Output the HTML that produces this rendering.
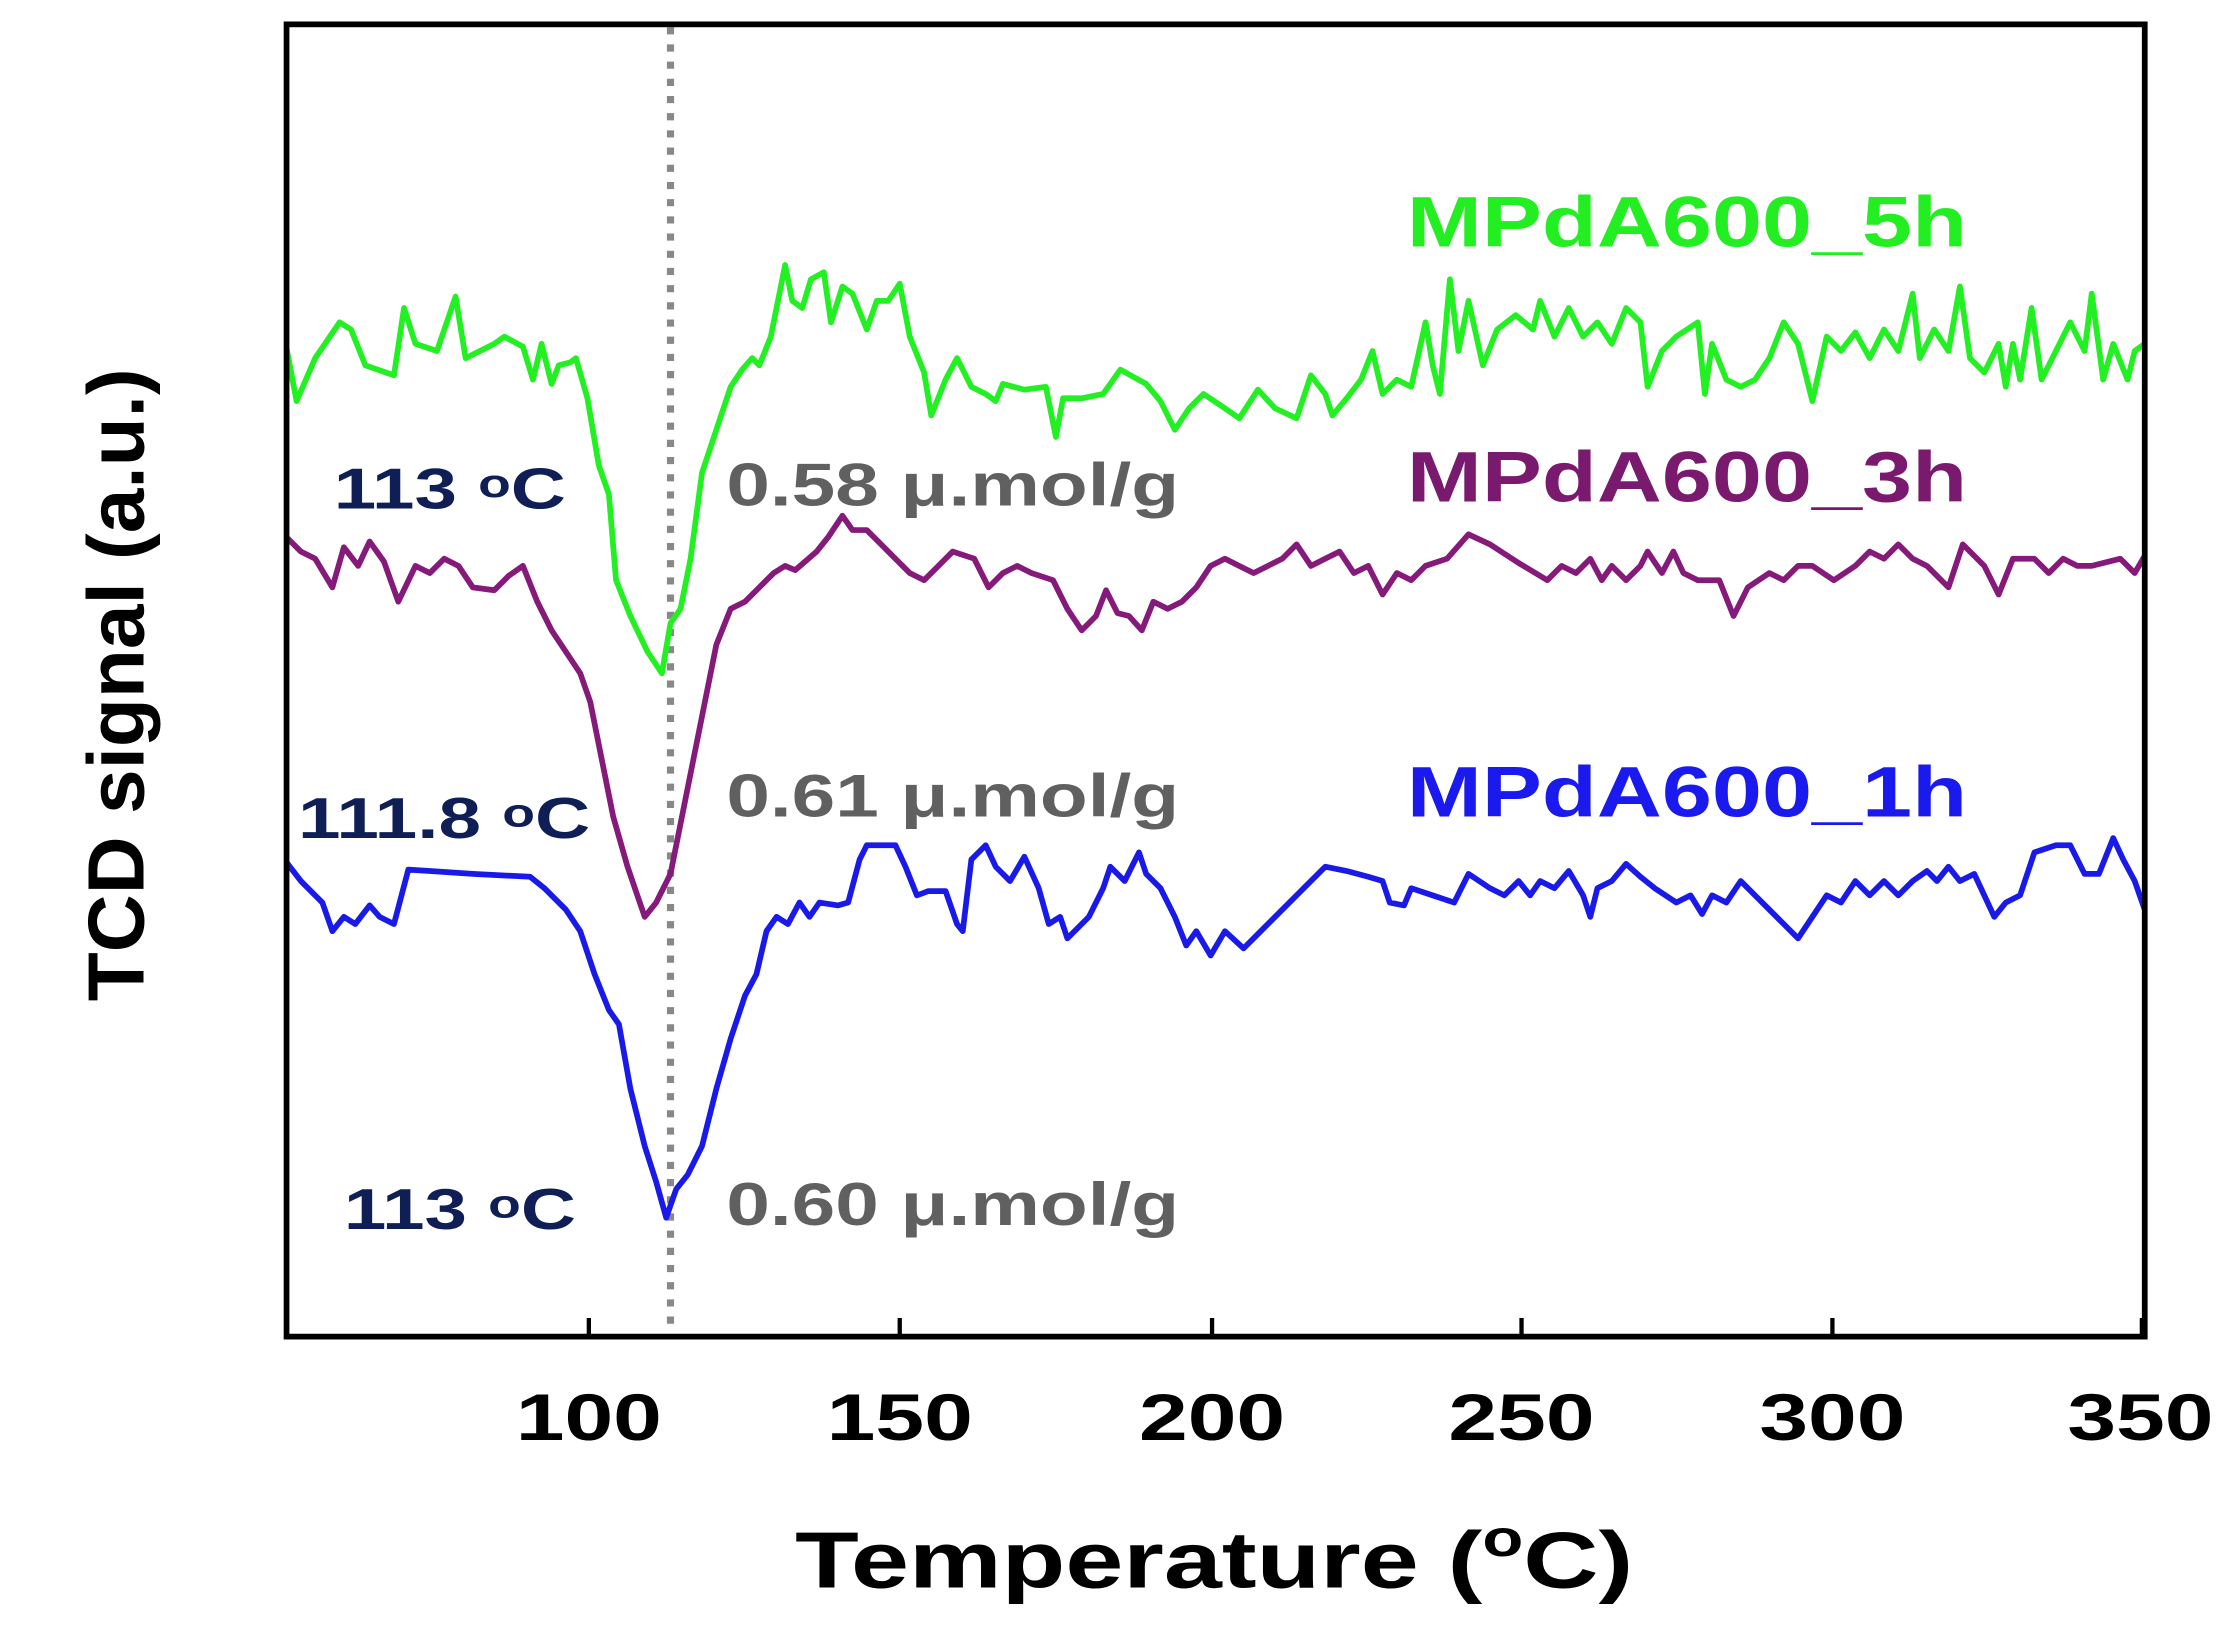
<!DOCTYPE html>
<html><head><meta charset="utf-8"><style>
html,body{margin:0;padding:0;background:#fff;}
svg{display:block;}
text{font-family:"Liberation Sans",Arial,sans-serif;font-weight:bold;}
</style></head><body>
<svg width="2235" height="1626" viewBox="0 0 1560 1135" preserveAspectRatio="none" xmlns="http://www.w3.org/2000/svg">
<rect width="1560" height="1135" fill="#fff"/>
<line x1="468" y1="19" x2="468" y2="931" stroke="#888" stroke-width="5" stroke-dasharray="5,7"/>
<g fill="none" stroke-width="4" stroke-linejoin="round">
<polyline stroke="#22f022" points="200,243 207,280 220,250 237,225 245,230 255,255 275,262 282,215 290,240 305,245 318,207 325,250 345,240 352,235 365,242 372,265 378,240 385,268 390,255 398,253 402,250 410,278 418,325 425,345 430,405 440,430 452,455 462,470 468,435 475,425 482,390 490,330 500,300 510,270 518,258 525,250 530,255 538,235 548,185 553,210 560,215 566,195 575,190 580,225 588,200 595,205 605,230 612,210 620,210 628,198 635,235 645,260 650,290 660,265 668,250 678,270 688,275 695,280 700,268 715,272 730,270 737,305 742,278 755,278 770,275 782,258 800,268 810,280 820,300 830,285 840,275 855,285 865,292 878,272 890,285 905,292 915,262 925,275 930,290 940,278 950,265 958,245 965,275 975,265 985,270 995,225 1000,255 1005,275 1012,195 1018,245 1025,210 1035,255 1045,230 1058,220 1070,230 1075,210 1085,235 1095,215 1105,235 1115,225 1125,240 1135,215 1145,225 1150,270 1160,245 1170,235 1185,225 1190,275 1195,240 1205,265 1215,270 1225,265 1235,250 1245,225 1255,240 1265,280 1275,235 1285,245 1295,232 1305,250 1315,230 1325,245 1335,205 1340,250 1350,230 1360,245 1368,200 1375,250 1385,260 1395,240 1400,270 1405,240 1410,265 1418,215 1425,265 1435,245 1445,225 1455,245 1460,205 1468,265 1475,240 1485,265 1490,245 1497,240"/>
<polyline stroke="#851a7a" points="200,375 210,385 220,390 232,410 240,382 250,395 258,378 268,392 278,420 290,395 300,400 310,390 320,395 330,410 345,412 355,402 365,395 375,420 385,440 395,455 405,470 412,490 420,530 428,570 438,605 450,640 458,630 468,610 478,560 490,500 500,450 510,425 520,420 530,410 540,400 548,395 555,398 570,385 578,375 588,360 595,370 605,370 615,380 625,390 635,400 645,405 655,395 665,385 680,390 690,410 700,400 710,395 720,400 735,405 745,425 755,440 765,430 772,412 780,428 788,430 797,440 805,420 815,425 825,420 835,410 845,395 855,390 865,395 875,400 885,395 895,390 905,380 915,395 925,390 935,385 945,400 955,395 965,415 975,400 985,405 995,395 1010,390 1025,373 1040,380 1060,393 1080,405 1090,395 1100,400 1110,390 1118,405 1125,395 1135,405 1145,395 1150,385 1160,400 1168,385 1175,400 1185,405 1200,405 1210,430 1220,410 1235,400 1245,405 1255,395 1265,395 1280,405 1295,395 1305,385 1315,390 1325,380 1335,390 1345,395 1360,410 1370,380 1385,395 1395,415 1405,390 1420,390 1430,400 1440,390 1450,395 1460,395 1480,390 1490,400 1497,388"/>
<polyline stroke="#1a1ae8" points="200,602 210,615 225,630 232,650 240,640 248,645 258,632 265,640 275,645 285,607 300,608 330,610 370,612 380,620 395,635 405,650 415,680 425,705 432,715 440,760 450,800 458,825 465,850 472,830 480,820 490,800 500,760 510,725 520,695 528,680 535,650 542,640 550,645 558,630 565,640 572,630 585,632 592,630 600,600 605,590 625,590 632,605 640,625 648,622 660,622 668,645 672,650 678,600 688,590 695,605 705,615 715,598 725,620 732,645 740,640 745,655 760,640 770,620 775,605 785,615 795,595 800,610 810,620 820,640 828,660 835,650 845,667 855,650 868,662 880,650 895,635 910,620 925,605 940,608 955,612 965,615 970,630 980,632 985,620 1000,625 1015,630 1025,610 1040,620 1050,625 1060,615 1068,625 1075,615 1085,620 1095,608 1105,625 1110,640 1115,620 1125,615 1135,603 1145,612 1155,620 1170,630 1180,625 1188,638 1195,625 1205,630 1215,615 1225,625 1235,635 1245,645 1255,655 1265,640 1275,625 1285,630 1295,615 1305,625 1315,615 1325,625 1335,615 1345,608 1352,615 1360,605 1368,615 1378,610 1385,625 1392,640 1400,630 1410,625 1420,595 1435,590 1445,590 1455,610 1465,610 1475,585 1482,600 1490,615 1497,635"/>
</g>
<rect x="200" y="17" width="1297" height="916" fill="none" stroke="#000" stroke-width="4"/>
<g stroke="#000" stroke-width="3">
<line x1="411" y1="933" x2="411" y2="920"/><line x1="628" y1="933" x2="628" y2="920"/><line x1="846" y1="933" x2="846" y2="920"/><line x1="1062" y1="933" x2="1062" y2="920"/><line x1="1279" y1="933" x2="1279" y2="920"/><line x1="1495" y1="933" x2="1495" y2="920"/>
</g>
<g font-size="46" fill="#000">
<text x="360" y="1005" textLength="102" lengthAdjust="spacingAndGlyphs">100</text>
<text x="577" y="1005" textLength="102" lengthAdjust="spacingAndGlyphs">150</text>
<text x="795" y="1005" textLength="102" lengthAdjust="spacingAndGlyphs">200</text>
<text x="1011" y="1005" textLength="102" lengthAdjust="spacingAndGlyphs">250</text>
<text x="1228" y="1005" textLength="102" lengthAdjust="spacingAndGlyphs">300</text>
<text x="1443" y="1005" textLength="102" lengthAdjust="spacingAndGlyphs">350</text>
</g>
<text x="555" y="1108" font-size="56" fill="#000" textLength="585" lengthAdjust="spacingAndGlyphs">Temperature (<tspan font-size="36" dy="-22">o</tspan><tspan dy="22">C)</tspan></text>
<text transform="translate(100,478) rotate(-90)" font-size="56" text-anchor="middle" fill="#000">TCD signal (a.u.)</text>
<g font-size="50">
<text x="982" y="172" fill="#22ee22" textLength="391" lengthAdjust="spacingAndGlyphs">MPdA600_5h</text>
<text x="982" y="350" fill="#7a1a6e" textLength="391" lengthAdjust="spacingAndGlyphs">MPdA600_3h</text>
<text x="982" y="570" fill="#1a1aee" textLength="391" lengthAdjust="spacingAndGlyphs">MPdA600_1h</text>
</g>
<g font-size="40" fill="#0f1f55">
<text x="233" y="355" textLength="162" lengthAdjust="spacingAndGlyphs">113 <tspan font-size="28" dy="-8">o</tspan><tspan dy="8">C</tspan></text>
<text x="208" y="585" textLength="204" lengthAdjust="spacingAndGlyphs">111.8 <tspan font-size="28" dy="-8">o</tspan><tspan dy="8">C</tspan></text>
<text x="240" y="858" textLength="162" lengthAdjust="spacingAndGlyphs">113 <tspan font-size="28" dy="-8">o</tspan><tspan dy="8">C</tspan></text>
</g>
<g font-size="42" fill="#606060">
<text x="507" y="353" textLength="316" lengthAdjust="spacingAndGlyphs">0.58 μ.mol/g</text>
<text x="507" y="570" textLength="316" lengthAdjust="spacingAndGlyphs">0.61 μ.mol/g</text>
<text x="507" y="855" textLength="316" lengthAdjust="spacingAndGlyphs">0.60 μ.mol/g</text>
</g>
</svg>
</body></html>
